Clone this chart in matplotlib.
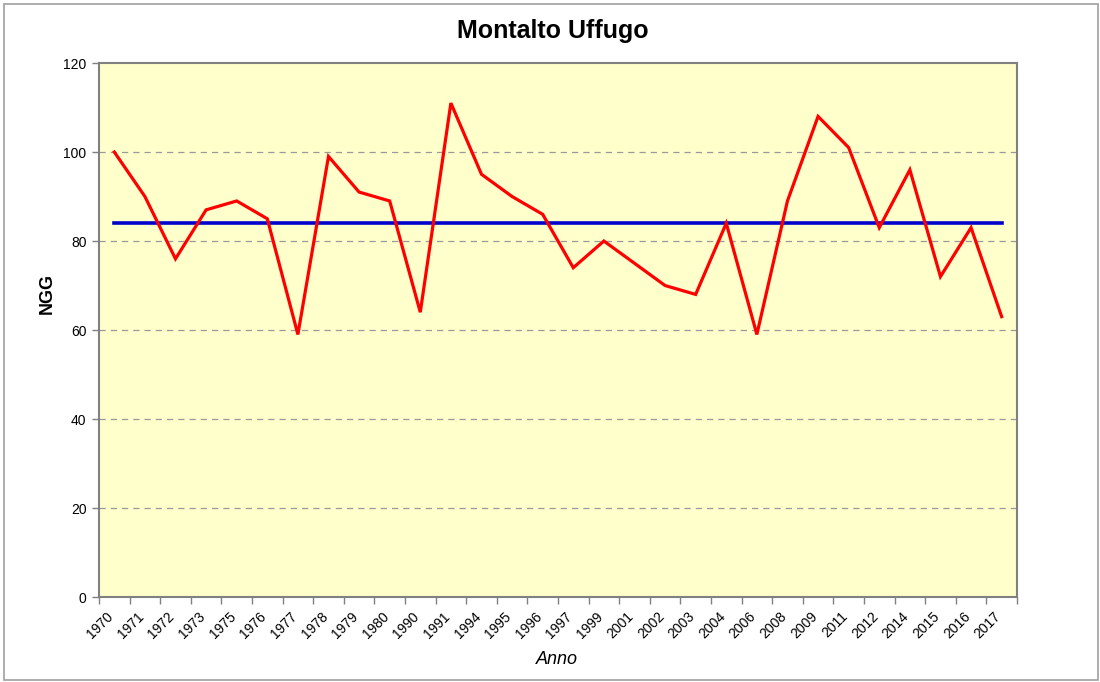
import numpy as np
import matplotlib
matplotlib.use("Agg")
import matplotlib.pyplot as plt
import matplotlib.transforms as mtransforms
from matplotlib.patches import Rectangle

plt.rcParams['font.family'] = ['Liberation Sans', 'DejaVu Sans']

# years (categories) and NGG values
anni = ['1970', '1971', '1972', '1973', '1975', '1976', '1977', '1978', '1979', '1980',
        '1990', '1991', '1994', '1995', '1996', '1997', '1999', '2001', '2002', '2003',
        '2004', '2006', '2008', '2009', '2011', '2012', '2014', '2015', '2016', '2017']
ngg = [100, 90, 76, 87, 89, 85, 59, 99, 91, 89,
       64, 111, 95, 90, 86, 74, 80, 75, 70, 68,
       84, 59, 89, 108, 101, 83, 96, 72, 83, 63]
media = [84] * len(anni)  # mean line

fig = plt.figure(figsize=(11, 6.82), dpi=100)
ax = fig.add_axes([0.09, 0.1246, 0.8345, 0.783])
ax.set_facecolor('#ffffcc')

x = np.arange(len(anni))
ax.plot(x, ngg, color='#ff0000', lw=2.3, solid_joinstyle='miter', zorder=3)
ax.plot(x, media, color='#0000cc', lw=2.6, zorder=2)

ax.set_xlim(-0.5, len(anni) - 0.5)
ax.set_ylim(0, 120)
ax.set_yticks(np.arange(0, 121, 20))
for v in np.arange(20, 101, 20):
    ax.axhline(v, color='#999999', lw=0.9, ls=(0, (5, 4)), zorder=1)

# tick marks at category boundaries, labels at centers
ax.set_xticks(np.arange(-0.5, len(anni), 1.0))
ax.set_xticklabels([])
ax.set_xticks(x, minor=True)
ax.set_xticklabels(anni, minor=True, rotation=45, ha='right', va='top',
                   rotation_mode='anchor', fontsize=10)
ax.tick_params(axis='x', which='minor', length=0, pad=9)
ax.tick_params(axis='x', which='major', length=5, color='#808080', width=1)
ax.tick_params(axis='y', length=5, color='#808080', width=1, labelsize=10, pad=4)

# shift rotated labels left so they end at the category center
shift = mtransforms.ScaledTranslation(-8 / 100, 0, fig.dpi_scale_trans)
for lab in ax.get_xticklabels(minor=True):
    lab.set_transform(lab.get_transform() + shift)

for s in ax.spines.values():
    s.set_color('#808080')
    s.set_linewidth(1.5)

fig.text(0.5027, 0.954, 'Montalto Uffugo', ha='center', va='center',
         fontsize=18, fontweight='bold')
fig.text(0.043, 1 - 293 / 682, 'NGG', rotation=90, ha='center', va='center',
         fontsize=13, fontweight='bold')
fig.text(0.506, 1 - 660 / 682, 'Anno', ha='center', va='center',
         fontsize=13, style='italic')

fig.patches.append(Rectangle((0.004, 0.003), 0.994, 0.991, transform=fig.transFigure,
                             fill=False, edgecolor='#a0a0a0', lw=1.2))

fig.savefig('out.png', dpi=100)
